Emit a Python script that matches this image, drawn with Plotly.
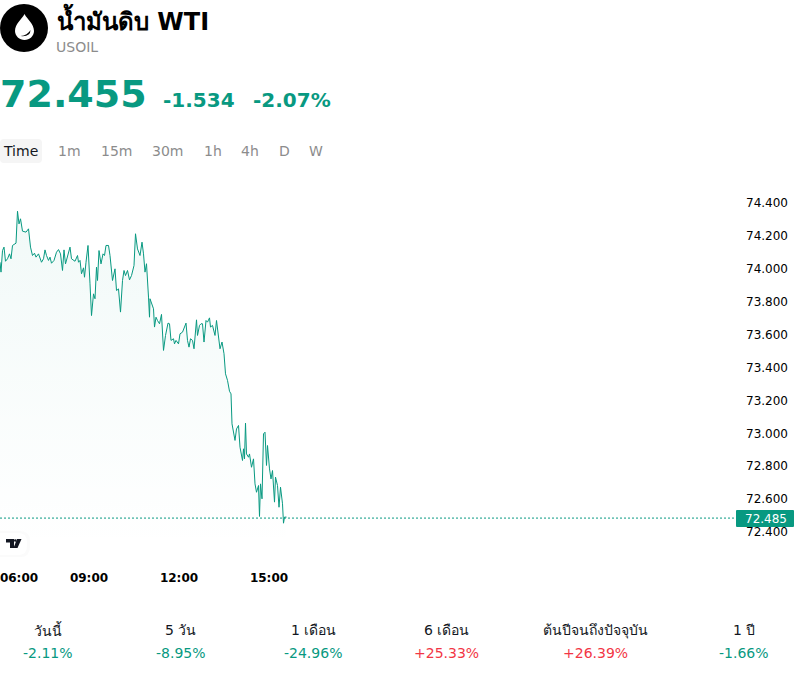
import plotly.graph_objects as go

minutes = [362,364,367,370,373,377,381,384,387,394,397,400,403,407,414,419,423,427,431,434,439,442,445,449,452,455,459,462,465,470,475,479,483,487,490,493,499,502,505,512,517,519,522,525,529,531,534,538,542,545,549,552,555,557,560,564,568,571,574,579,582,587,592,595,599,603,607,610,613,617,621,625,630,633,637,640,642,646,
649,652,655,659,661,662,665,669,671,674,677,681,685,689,693,698,701,704,709,711,714,719,722,727,734,737,740,743,747,750,755,757,761,764,767,770,774,777,781,783,787,792,795,799,802,806,810,813,817,
821,824,826,829,832,835,839,842,847,849,851,853,855,859,861,865,869,872,875,879,881,883,886,889,892,895,897,901,904,907,911,913,917,920,923,927,929,931,935]
prices = [74.040,73.980,74.111,74.132,74.046,74.061,74.091,74.061,74.142,74.156,74.350,74.273,74.304,74.229,74.223,74.243,74.132,74.081,74.095,74.071,74.091,74.057,74.040,74.061,74.115,74.081,74.051,74.071,74.034,74.051,74.101,74.117,74.091,73.990,74.115,74.030,74.091,74.132,74.061,74.046,74.081,74.040,74.051,73.970,74.006,73.949,74.040,74.142,73.909,73.716,73.848,73.818,74.010,73.929,74.111,74.030,74.091,74.081,74.142,74.142,74.081,73.929,74.000,73.868,73.878,73.737,73.929,73.990,73.959,73.990,73.933,73.959,74.020,74.213,74.121,74.091,74.081,74.162,
74.091,73.980,74.031,73.828,73.706,73.818,73.788,73.757,73.646,73.706,73.686,73.666,73.723,73.504,73.595,73.670,73.666,73.565,73.575,73.544,73.565,73.544,73.605,73.615,73.670,73.565,73.524,73.575,73.565,73.514,73.690,73.595,73.656,73.666,73.666,73.555,73.686,73.676,73.702,73.646,73.656,73.595,73.686,73.565,73.514,73.555,73.484,73.362,73.322,
73.256,73.240,73.058,72.997,72.957,73.027,73.048,72.916,72.835,72.906,72.845,73.062,72.875,72.855,72.875,72.794,72.845,72.693,72.642,72.683,72.495,72.693,72.602,72.997,73.007,72.805,72.926,72.784,72.723,72.774,72.582,72.734,72.683,72.551,72.673,72.572,72.454,72.491,72.491]

last_price = 72.485
y_ticks = [72.4,72.6,72.8,73.0,73.2,73.4,73.6,73.8,74.0,74.2,74.4]
x_tick_minutes = [400,540,720,900]
x_tick_labels = ["06:00","09:00","12:00","15:00"]
intervals = ["Time","1m","15m","30m","1h","4h","D","W"]
interval_centers = [20.5,69,116,167.5,213,250,284,316]
stat_labels = ["วันนี้","5 วัน","1 เดือน","6 เดือน","ต้นปีจนถึงปัจจุบัน","1 ปี"]
stat_values = ["-2.11%","-8.95%","-24.96%","+25.33%","+26.39%","-1.66%"]
stat_centers = [48,180.5,313,446,595,744]

GREEN = "#089981"; RED = "#f23645"; GREY = "#8c8c8c"
FONT = "DejaVu Sans"
L, R, T, B = 0, 736, 191, 551

def px(x): return (x - L) / (R - L)
def py(y): return (B - y) / (B - T)

def path(pts):
    return "M " + " L ".join(f"{px(a):.5f},{py(b):.5f}" for a, b in pts) + " Z"

def text(x, y, s, size, color="#000", bold=False, anchor="left"):
    return dict(x=px(x), y=py(y), xref="paper", yref="paper", text=f"<b>{s}</b>" if bold else s,
                showarrow=False, xanchor=anchor, yanchor="middle", align=anchor,
                font=dict(family=FONT, size=size, color=color), borderpad=0, borderwidth=0)

def round_rect(x0, y0, x1, y1, r):
    return ("M {},{} L {},{} Q {},{} {},{} L {},{} Q {},{} {},{} L {},{} Q {},{} {},{} L {},{} Q {},{} {},{} Z"
            .format(px(x0+r),py(y0),px(x1-r),py(y0),px(x1),py(y0),px(x1),py(y0+r),
                    px(x1),py(y1-r),px(x1),py(y1),px(x1-r),py(y1),
                    px(x0+r),py(y1),px(x0),py(y1),px(x0),py(y1-r),
                    px(x0),py(y0+r),px(x0),py(y0),px(x0+r),py(y0)))

fig = go.Figure(go.Scatter(
    x=minutes, y=prices, mode="lines", line=dict(color=GREEN, width=1), fill="tozeroy",
    fillgradient=dict(type="vertical", start=74.35, stop=72.3,
                      colorscale=[[0, "rgba(8,153,129,0.055)"], [1, "rgba(8,153,129,0)"]]),
    hoverinfo="skip", showlegend=False))

shapes = [
    dict(type="line", xref="paper", x0=0, x1=1, yref="y", y0=last_price, y1=last_price,
         line=dict(color=GREEN, width=1, dash="2px,2px")),
    dict(type="circle", xref="paper", yref="paper", x0=px(0), x1=px(48), y0=py(52), y1=py(4),
         fillcolor="#000", line_width=0),
    dict(type="path", xref="paper", yref="paper", fillcolor="#fff", line_width=0,
         path="M {},{} C {},{} {},{} {},{} C {},{} {},{} {},{} C {},{} {},{} {},{} C {},{} {},{} {},{} Z".format(
             px(24.5),py(14), px(22),py(19), px(15),py(24), px(15),py(31),
             px(15),py(36), px(19.5),py(40), px(24.5),py(40),
             px(29.5),py(40), px(34),py(36), px(34),py(31),
             px(34),py(24), px(27),py(19), px(24.5),py(14))),
    dict(type="path", xref="paper", yref="paper", fillcolor="#000", line_width=0,
         path="M {},{} Q {},{} {},{} Q {},{} {},{} Z".format(
             px(20.5),py(36), px(27.5),py(35.5), px(30.5),py(30),
             px(30.5),py(37), px(20.5),py(36))),
    dict(type="path", xref="paper", yref="paper", fillcolor="#f5f5f5", line_width=0,
         path=round_rect(0, 139, 42, 163, 4)),
    dict(type="path", xref="paper", yref="paper", fillcolor="#fbfbfb", line_width=0,
         path=round_rect(-14, 531, 30, 557, 10)),
    dict(type="path", xref="paper", yref="paper", fillcolor="#fff", line_width=0,
         path=round_rect(-14, 533, 27, 555, 9)),
    dict(type="path", xref="paper", yref="paper", fillcolor="#131722", line_width=0,
         path=path([(6,539),(14,539),(14,548),(10,548),(10,542.5),(6,542.5)])),
    dict(type="path", xref="paper", yref="paper", fillcolor="#131722", line_width=0,
         path=path([(17,539),(21.5,539),(17.5,548),(13.5,548)])),
    dict(type="circle", xref="paper", yref="paper", fillcolor="#131722", line_width=0,
         x0=px(14), x1=px(16.6), y0=py(541.8), y1=py(539.2)),
    dict(type="path", xref="paper", yref="paper", fillcolor=GREEN, line_width=0,
         path=round_rect(736, 510, 794, 527, 1)),
]

ann = [
    text(56.5, 20, "น้ำมันดิบ WTI", 24, bold=True),
    text(56, 47, "USOIL", 14, GREY),
    text(0, 94, "72.455", 38, GREEN, bold=True),
    text(163, 100, "-1.534", 20, GREEN, bold=True),
    text(252.5, 100, "-2.07%", 20, GREEN, bold=True),
    text(766, 518.5, f"{last_price:.3f}", 12, "#fff", anchor="center"),
]
for i, (s, c) in enumerate(zip(intervals, interval_centers)):
    ann.append(text(c, 151, s, 14, "#131722" if i == 0 else GREY, anchor="center"))
for s, v, c in zip(stat_labels, stat_values, stat_centers):
    ann.append(text(c, 630, s, 14, "#131722", anchor="center"))
    ann.append(text(c, 653, v, 14, GREEN if v.startswith("-") else RED, anchor="center"))

fig.update_layout(
    width=800, height=673, autosize=False,
    margin=dict(l=L, r=800-R, t=T, b=673-B, pad=0),
    paper_bgcolor="#fff", plot_bgcolor="#fff",
    font=dict(family=FONT, size=12, color="#131722"),
    hovermode=False, shapes=shapes, annotations=ann,
    xaxis=dict(range=[362, 362+2*(R-L)], showgrid=False, zeroline=False, showline=False,
               tickmode="array", tickvals=x_tick_minutes, ticktext=[f"<b>{t}</b>" for t in x_tick_labels],
               ticks="", ticklabelstandoff=18, ticklabeloverflow="allow",
               tickfont=dict(size=12, color="#000", family=FONT)),
    yaxis=dict(range=[72.285, 74.473], side="right", showgrid=False, zeroline=False, showline=False,
               tickmode="array", tickvals=y_ticks, tickformat=".3f", ticks="",
               ticklabelstandoff=9, tickfont=dict(size=12, color="#000", family=FONT)),
)

fig.write_html("out.html", config=dict(displayModeBar=False, staticPlot=True),
               post_script="document.body.style.margin='0';")
